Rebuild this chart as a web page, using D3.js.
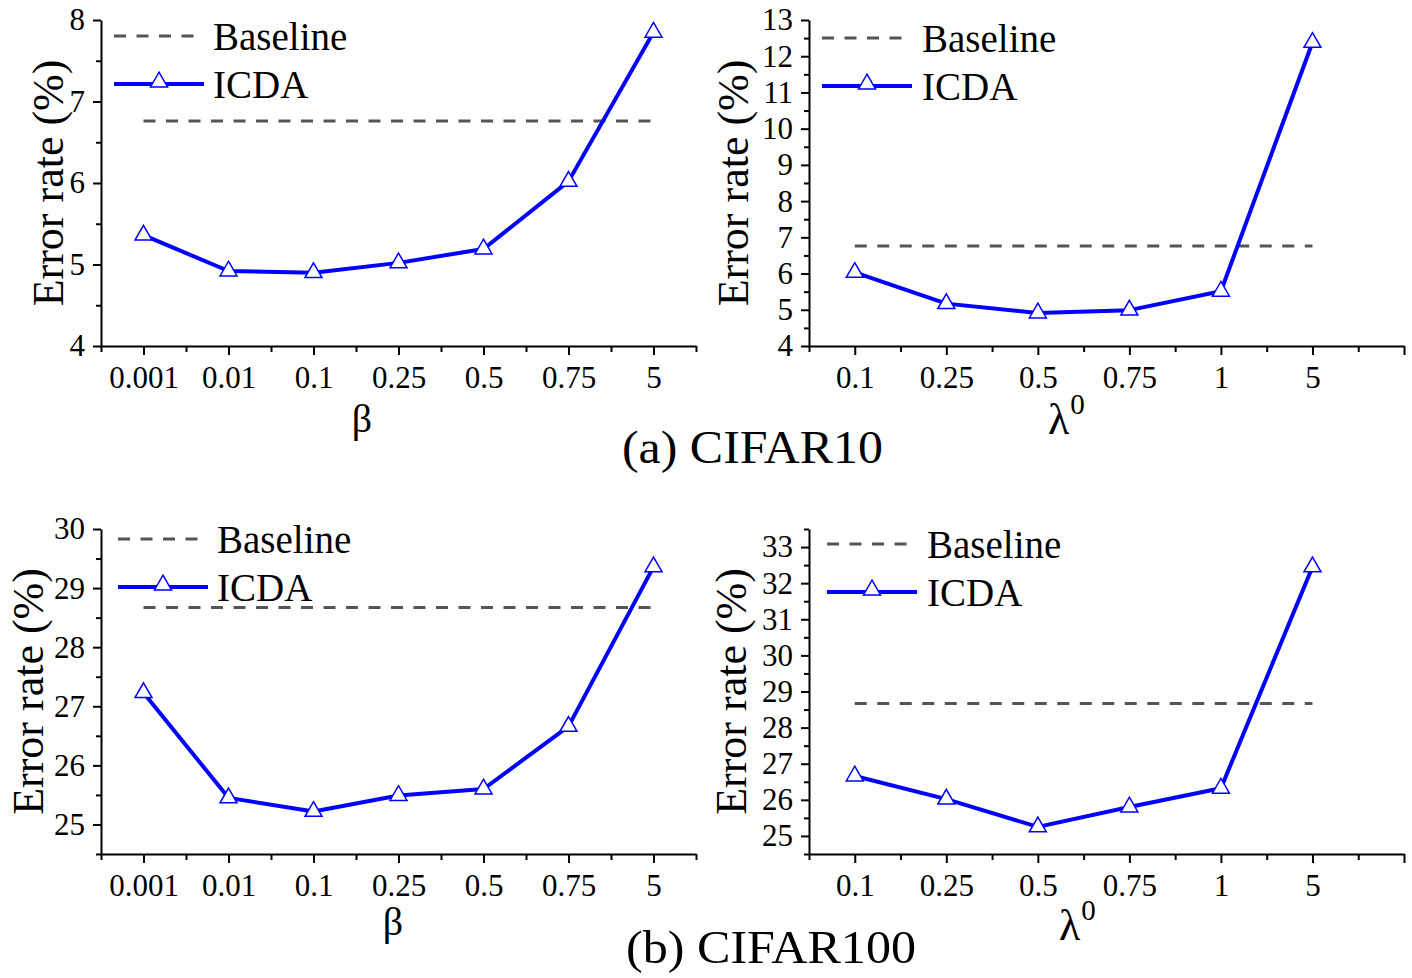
<!DOCTYPE html>
<html><head><meta charset="utf-8">
<script src="https://cdn.jsdelivr.net/npm/d3@7"></script>
<style>
html,body{margin:0;padding:0;background:#fff;}
svg{display:block;font-family:"Liberation Serif","Times New Roman",serif;}
</style></head>
<body>
<svg id="chart" width="1412" height="978"></svg>
<script>
// ---- data ----
const betaLabels = ["0.001", "0.01", "0.1", "0.25", "0.5", "0.75", "5"];
const lambdaLabels = ["0.1", "0.25", "0.5", "0.75", "1", "5"];
const cifar10Beta = [5.36, 4.92, 4.90, 5.02, 5.19, 6.02, 7.85];
const cifar10Lambda = [6.03, 5.17, 4.91, 4.99, 5.51, 12.38];
const cifar100Beta = [27.23, 25.45, 25.22, 25.49, 25.60, 26.66, 29.36];
const cifar100Lambda = [26.66, 26.02, 25.25, 25.80, 26.32, 32.45];
const cifar10Baseline = 6.76;
const cifar100Baseline = 28.67;
const c10BetaYTicks = [4, 5, 6, 7, 8];
const c10LambdaYTicks = [4, 5, 6, 7, 8, 9, 10, 11, 12, 13];
const c100BetaYTicks = [25, 26, 27, 28, 29, 30];
const c100LambdaYTicks = [25, 26, 27, 28, 29, 30, 31, 32, 33];
const seriesNames = ["Baseline", "ICDA"];
const yTitle = "Error rate (%)";
const captions = ["(a) CIFAR10", "(b) CIFAR100"];

// ---- layout ----
const panels = [
  {x0:101, x1:696, y0:20, y1:346, labels:betaLabels, values:cifar10Beta, base:cifar10Baseline,
   yDom:[4,8], yTicks:c10BetaYTicks, xMax:6.5, xt:"β", xtX:362, xtY:432, ytX:63,
   leg:{x:114, y1:36, y2:84, tx:213}},
  {x0:809, x1:1404, y0:20, y1:346, labels:lambdaLabels, values:cifar10Lambda, base:cifar10Baseline,
   yDom:[4,13], yTicks:c10LambdaYTicks, xMax:6.0, xt:"λ", xtX:1048, xtY:434, ytX:748,
   leg:{x:822, y1:38, y2:86, tx:922}},
  {x0:101, x1:696, y0:529, y1:854, labels:betaLabels, values:cifar100Beta, base:cifar100Baseline,
   yDom:[24.5,30], yTicks:c100BetaYTicks, xMax:6.5, xt:"β", xtX:393, xtY:935, ytX:43,
   leg:{x:118, y1:539, y2:587, tx:217}},
  {x0:809, x1:1404, y0:529, y1:854, labels:lambdaLabels, values:cifar100Lambda, base:cifar100Baseline,
   yDom:[24.5,33.5], yTicks:c100LambdaYTicks, xMax:6.0, xt:"λ", xtX:1059, xtY:940, ytX:746,
   leg:{x:827, y1:544, y2:592, tx:927}}
];

const svg = d3.select("#chart");
const BLUE = "#0000ff", GREY = "#555555";
const tri = d3.symbol().type(d3.symbolTriangle).size(125);

panels.forEach(p => {
  const n = p.labels.length;
  const x = d3.scaleLinear().domain([-0.5, p.xMax]).range([p.x0, p.x1]);
  const y = d3.scaleLinear().domain(p.yDom).range([p.y1, p.y0]);
  const g = svg.append("g");

  // minor x ticks (half steps)
  const xMinor = d3.range(-0.5, p.xMax + 0.01, 0.5).filter(v => Math.abs(v - Math.round(v)) > 0.01);
  g.append("g").attr("transform", `translate(0,${p.y1})`)
    .call(d3.axisBottom(x).tickValues(xMinor).tickSize(6).tickFormat(""))
    .call(a => a.select(".domain").remove());
  // extra unlabeled major tick beyond last category
  const xExtraMajor = d3.range(0, Math.floor(p.xMax) + 1).filter(v => v >= n);
  g.append("g").attr("transform", `translate(0,${p.y1})`)
    .call(d3.axisBottom(x).tickValues(xExtraMajor).tickSize(9).tickFormat(""))
    .call(a => a.select(".domain").remove());
  const xa = g.append("g").attr("transform", `translate(0,${p.y1})`)
    .call(d3.axisBottom(x).tickValues(d3.range(0, n)).tickSize(9).tickSizeOuter(0).tickFormat(i => p.labels[i]));
  xa.selectAll("text").attr("y", 42).attr("dy", null)
    .style("font-size", "31px").style("font-family", "Liberation Serif").attr("fill", "#000");

  // y axis
  const yMinor = d3.range(p.yDom[0], p.yDom[1] + 0.01, 0.5).filter(v => Math.abs(v - Math.round(v)) > 0.01);
  g.append("g").attr("transform", `translate(${p.x0},0)`)
    .call(d3.axisLeft(y).tickValues(yMinor).tickSize(5).tickFormat(""))
    .call(a => a.select(".domain").remove());
  const ya = g.append("g").attr("transform", `translate(${p.x0},0)`)
    .call(d3.axisLeft(y).tickValues(p.yTicks).tickSize(8).tickPadding(8).tickSizeOuter(0).tickFormat(d3.format("d")));
  ya.selectAll("text").style("font-size", "31px").style("font-family", "Liberation Serif").attr("fill", "#000");

  g.selectAll(".domain, .tick line").attr("stroke", "#000").attr("stroke-width", 2);

  // y title
  g.append("text")
    .attr("transform", `translate(${p.ytX},${(p.y0 + p.y1) / 2}) rotate(-90)`)
    .attr("text-anchor", "middle").style("font-size", "44px").text(yTitle);

  // x title
  if (p.xt === "λ") {
    const xt = g.append("text").attr("x", p.xtX).attr("y", p.xtY).style("font-size", "44px").text(p.xt);
    xt.append("tspan").attr("dx", 1).attr("dy", -20).style("font-size", "29px").text("0");
  } else {
    g.append("text").attr("x", p.xtX).attr("y", p.xtY)
      .attr("text-anchor", "middle").style("font-size", "40px").text(p.xt);
  }

  // baseline
  g.append("line")
    .attr("x1", x(0)).attr("x2", x(n - 1))
    .attr("y1", y(p.base)).attr("y2", y(p.base))
    .attr("stroke", GREY).attr("stroke-width", 3).attr("stroke-dasharray", "12,10.5");

  // ICDA line
  const line = d3.line().x((d, i) => x(i)).y(d => y(d));
  g.append("path").datum(p.values).attr("d", line)
    .attr("fill", "none").attr("stroke", BLUE).attr("stroke-width", 4).attr("stroke-linejoin", "round");
  g.selectAll(".mk").data(p.values).join("path")
    .attr("transform", (d, i) => `translate(${x(i)},${y(d)})`)
    .attr("d", tri).attr("fill", "#fff").attr("stroke", BLUE).attr("stroke-width", 1.5);

  // legend
  const L = p.leg;
  g.append("line").attr("x1", L.x).attr("x2", L.x + 90).attr("y1", L.y1).attr("y2", L.y1)
    .attr("stroke", GREY).attr("stroke-width", 3).attr("stroke-dasharray", "12,10.5");
  g.append("line").attr("x1", L.x).attr("x2", L.x + 90).attr("y1", L.y2).attr("y2", L.y2)
    .attr("stroke", BLUE).attr("stroke-width", 4);
  g.append("path").attr("transform", `translate(${L.x + 45},${L.y2 - 2})`).attr("d", tri)
    .attr("fill", "#fff").attr("stroke", BLUE).attr("stroke-width", 1.5);
  g.append("text").attr("x", L.tx).attr("y", L.y1 + 14).style("font-size", "39px").text(seriesNames[0]);
  g.append("text").attr("x", L.tx).attr("y", L.y2 + 14).style("font-size", "39px").text(seriesNames[1]);
});

// captions
svg.append("text").attr("x", 622).attr("y", 463).style("font-size", "46px")
  .attr("textLength", 261).attr("lengthAdjust", "spacingAndGlyphs").text(captions[0]);
svg.append("text").attr("x", 626).attr("y", 963).style("font-size", "46px")
  .attr("textLength", 290).attr("lengthAdjust", "spacingAndGlyphs").text(captions[1]);
</script>
</body></html>
